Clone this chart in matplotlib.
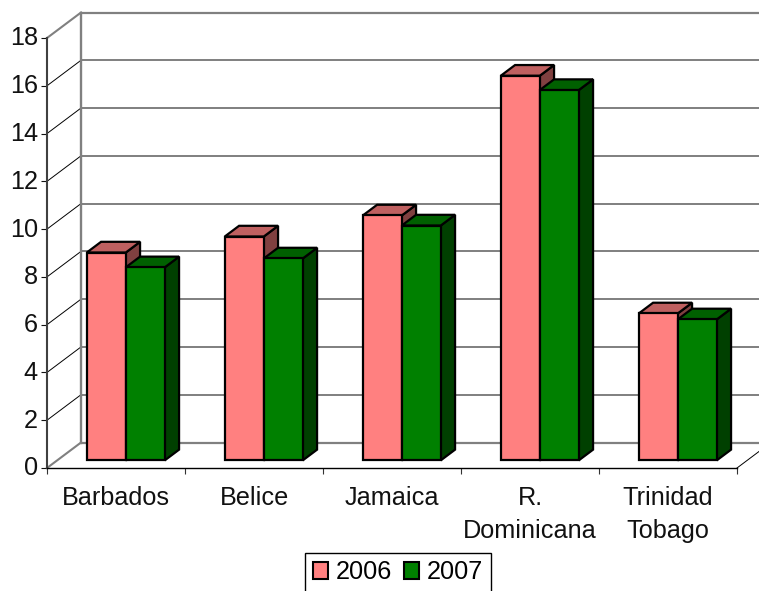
import matplotlib
matplotlib.use("Agg")
import matplotlib.pyplot as plt
from matplotlib.patches import Polygon, Patch
from matplotlib.transforms import ScaledTranslation

plt.rcParams["font.family"] = ["Liberation Sans", "DejaVu Sans"]

categories = ["Barbados", "Belice", "Jamaica", "R.\nDominicana", "Trinidad\nTobago"]
series_names = ["2006", "2007"]
values_2006 = [8.7, 9.37, 10.25, 16.1, 6.15]
values_2007 = [8.08, 8.45, 9.83, 15.5, 5.9]
y_ticks = list(range(0, 20, 2))

W, H = 759, 591
LEFT, RIGHT, BOTTOM, TOP = 47, 737, 468, 38
FONT = 18.2

fig = plt.figure(figsize=(W / 100, H / 100), dpi=100, facecolor="white")
ax = fig.add_axes([LEFT / W, 1 - BOTTOM / H, (RIGHT - LEFT) / W, (BOTTOM - TOP) / H])
ax.set_xlim(0, len(categories))
ax.set_ylim(0, 18)
ax.patch.set_alpha(0)

# Oblique depth of the chart box, in data units
DEPTH_X = 34 / 138
DEPTH_Y = 25.5 / (430 / 18)


def project(x, y, d):
    return x + d * DEPTH_X, y + d * DEPTH_Y


GRAY = "#808080"
x_far = len(categories) + 0.5

# Back wall, floor and diagonal gridlines
for v in y_ticks:
    edge = v in (0, 18)
    x0, y0 = project(0, v, 1)
    ax.plot([x0, x_far], [y0, y0], color=GRAY if edge else "#707070",
            lw=1.6 if edge else 1.25, clip_on=False, zorder=1, solid_capstyle="butt")
    ax.plot([0, x0], [v, y0], color=GRAY if edge else "black",
            lw=1.5 if edge else 0.7, clip_on=False, zorder=1)
x0, y0 = project(0, 0, 1)
_, y1 = project(0, 18, 1)
ax.plot([x0, x0], [y0, y1], color=GRAY, lw=1.7, clip_on=False, zorder=1)
xr, yr = project(len(categories), 0, 1)
ax.plot([len(categories), xr], [0, yr], color="black", lw=0.7, clip_on=False, zorder=1)

BAR_W = 39 / 138
D_FRONT, D_BACK = 0.30, 0.72


def draw_bar(left, value, front, top, side, z):
    right = left + BAR_W
    corners = {
        "front": [project(left, 0, D_FRONT), project(right, 0, D_FRONT),
                  project(right, value, D_FRONT), project(left, value, D_FRONT)],
        "side": [project(right, 0, D_FRONT), project(right, 0, D_BACK),
                 project(right, value, D_BACK), project(right, value, D_FRONT)],
        "top": [project(left, value, D_FRONT), project(right, value, D_FRONT),
                project(right, value, D_BACK), project(left, value, D_BACK)],
    }
    for key, colour in (("side", side), ("top", top), ("front", front)):
        ax.add_patch(Polygon(corners[key], closed=True, facecolor=colour, edgecolor="black",
                             lw=1.6, joinstyle="miter", clip_on=False, zorder=z))


for i, (a, b) in enumerate(zip(values_2006, values_2007)):
    centre = i + 0.5 - 0.003
    draw_bar(centre - BAR_W, a, "#FF8080", "#BF6060", "#804040", 3 + i * 2)
    draw_bar(centre, b, "#008000", "#006000", "#004000", 4 + i * 2)

# Axis lines and labels
for name in ("top", "right"):
    ax.spines[name].set_visible(False)
ax.spines["left"].set_color("#404040")
ax.spines["left"].set_linewidth(1.5)
ax.spines["bottom"].set_color("black")
ax.spines["bottom"].set_linewidth(1.0)
ax.set_yticks(y_ticks)
ax.tick_params(axis="y", length=4.5, width=0.8, pad=2, labelsize=FONT, colors="#111111")
# The value labels sit slightly above their ticks
lift = ScaledTranslation(0, 1.5 / 72, fig.dpi_scale_trans)
for label in ax.get_yticklabels():
    label.set_transform(label.get_transform() + lift)
ax.set_xticks(range(len(categories) + 1))
ax.set_xticklabels([])
ax.tick_params(axis="x", which="major", length=4.5, width=0.8, color="#333333")
ax.set_xticks([i + 0.5 for i in range(len(categories))], minor=True)
ax.set_xticklabels(categories, minor=True, fontsize=FONT, color="#111111", linespacing=1.47)
ax.tick_params(axis="x", which="minor", length=0, pad=13)

handles = [Patch(facecolor="#FF8080", edgecolor="black", lw=1.5),
           Patch(facecolor="#008000", edgecolor="black", lw=1.5)]
fig.legend(handles, series_names, ncol=2, fontsize=FONT, loc="lower left",
           bbox_to_anchor=(305 / W, -1 / H), bbox_transform=fig.transFigure,
           fancybox=False, framealpha=1, edgecolor="black", borderaxespad=0,
           borderpad=0.3, handlelength=0.62, handleheight=0.62, handletextpad=0.3,
           columnspacing=0.45)

fig.savefig("out.png", dpi=100)
